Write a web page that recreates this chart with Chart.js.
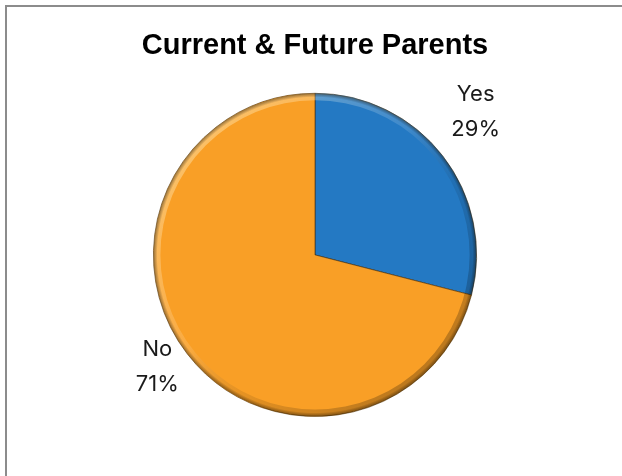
<!DOCTYPE html>
<html>
<head>
<meta charset="utf-8">
<script src="https://cdn.jsdelivr.net/npm/chart.js@4/dist/chart.umd.min.js"></script>
<style>
    html, body { margin: 0; padding: 0; background: #fff; }
    #wrap { width: 622px; height: 476px; }
</style>
</head>
<body>
<div id="wrap"><canvas id="container" width="622" height="476"></canvas></div>
<script>
const categories = ['Yes', 'No'];
const shares = [29, 71];
const sliceColors = ['#2479c3', '#f99f26'];

const ctx = document.getElementById('container').getContext('2d');

// frame around the chart box
const framePlugin = {
    id: 'frame',
    beforeDraw(chart) {
        const c = chart.ctx;
        c.save();
        c.fillStyle = '#fff';
        c.fillRect(0, 0, chart.width, chart.height);
        c.strokeStyle = '#8c8c8c';
        c.lineWidth = 2;
        c.strokeRect(6, 6, chart.width + 20, chart.height + 20);
        c.restore();
    }
};

// rim shading on every slice: light on the upper left, dark on the lower right
const bevelPlugin = {
    id: 'bevel',
    afterDatasetsDraw(chart) {
        const c = chart.ctx;
        chart.getDatasetMeta(0).data.forEach(arc => {
            const { x, y, startAngle, endAngle, outerRadius: r } = arc.getProps(['x', 'y', 'startAngle', 'endAngle', 'outerRadius'], true);
            c.save();
            c.beginPath();
            c.moveTo(x, y);
            c.arc(x, y, r, startAngle, endAngle);
            c.closePath();
            c.clip();

            // ring
            c.beginPath();
            c.arc(x, y, r, 0, Math.PI * 2);
            c.arc(x, y, r - 7, 0, Math.PI * 2, true);
            const lin = c.createLinearGradient(x - r, y - r, x + r, y + r);
            lin.addColorStop(0, 'rgba(255,255,210,0.45)');
            lin.addColorStop(0.45, 'rgba(255,255,255,0.12)');
            lin.addColorStop(0.6, 'rgba(0,0,0,0.08)');
            lin.addColorStop(1, 'rgba(0,0,0,0.35)');
            c.fillStyle = lin;
            c.fill();

            // dark outer edge
            const g = c.createRadialGradient(x, y, r - 4, x, y, r);
            g.addColorStop(0, 'rgba(0,0,0,0)');
            g.addColorStop(1, 'rgba(40,25,0,0.45)');
            c.fillStyle = g;
            c.beginPath();
            c.arc(x, y, r, 0, Math.PI * 2);
            c.fill();
            c.restore();
        });
    }
};

// category name and percentage outside each slice
const outsideLabels = {
    id: 'outsideLabels',
    afterDraw(chart, args, opts) {
        const c = chart.ctx;
        const values = chart.data.datasets[0].data;
        c.save();
        c.font = opts.font;
        c.fillStyle = opts.color;
        c.textAlign = 'center';
        c.textBaseline = 'middle';
        chart.getDatasetMeta(0).data.forEach((arc, i) => {
            const { x, y, startAngle, endAngle, outerRadius } = arc.getProps(['x', 'y', 'startAngle', 'endAngle', 'outerRadius'], true);
            const mid = (startAngle + endAngle) / 2;
            const off = opts.offsets[i];
            const lx = x + Math.cos(mid) * outerRadius + off[0];
            const ly = y + Math.sin(mid) * outerRadius + off[1];
            c.fillText(chart.data.labels[i], lx, ly - opts.lineGap / 2);
            c.fillText(values[i] + '%', lx, ly + opts.lineGap / 2);
        });
        c.restore();
    }
};

const chart = new Chart(ctx, {
    type: 'pie',
    data: {
        labels: categories,
        datasets: [{
            data: shares,
            backgroundColor: sliceColors,
            borderColor: 'rgba(70,45,10,0.6)',
            borderWidth: 1
        }]
    },
    options: {
        responsive: false,
        animation: false,
        layout: {
            padding: { top: 0, bottom: 59, left: 104, right: 96 }
        },
        plugins: {
            legend: { display: false },
            tooltip: { enabled: false },
            title: {
                display: true,
                text: 'Current & Future Parents',
                color: '#000',
                font: { family: 'Liberation Sans, Arial, sans-serif', size: 29, weight: 'bold', lineHeight: 1.2 },
                padding: { top: 29, bottom: 29 }
            },
            outsideLabels: {
                font: '22px Inter, sans-serif',
                color: '#1a1a1a',
                lineGap: 35,
                offsets: [[33, -44], [-30, 13]]
            }
        }
    },
    plugins: [framePlugin, bevelPlugin, outsideLabels]
});
</script>
</body>
</html>
